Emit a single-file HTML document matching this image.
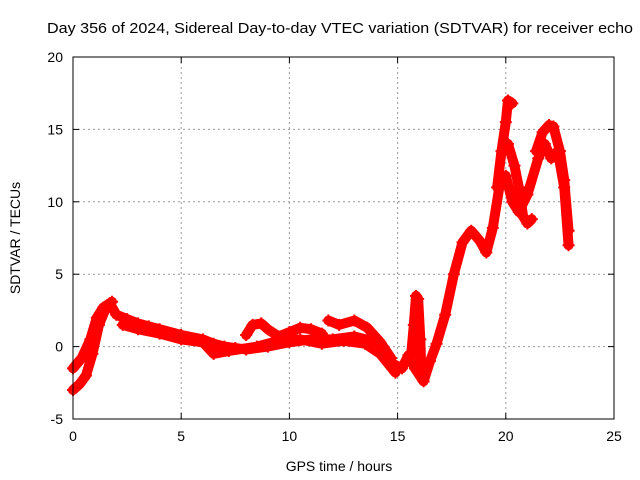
<!DOCTYPE html>
<html><head><meta charset="utf-8"><style>
body{margin:0;background:#fff;}
svg{display:block;font-family:"Liberation Sans",sans-serif;}
</style></head><body>
<svg id="chart" width="640" height="480">
<rect width="640" height="480" fill="#fff"/>
<text x="47" y="33" font-size="15" textLength="586" lengthAdjust="spacingAndGlyphs">Day 356 of 2024, Sidereal Day-to-day VTEC variation (SDTVAR) for receiver echo</text>
<g id="grid"></g>
<g id="marks"></g>
<rect x="73" y="57" width="541" height="362" fill="none" stroke="#000" stroke-width="1"/>
<g id="axes"></g>
<text x="339" y="471" font-size="14" text-anchor="middle">GPS time / hours</text>
<text x="20" y="238" font-size="14" text-anchor="middle" transform="rotate(-90 20 238)">SDTVAR / TECUs</text>
</svg>
<script>
const xTicks=[0,5,10,15,20,25];
const yTicks=[-5,0,5,10,15,20];
const seriesMain=[[0,-1.5],[0.4,-0.8],[0.8,0.5],[1.1,2],[1.4,2.7],[1.7,3],[2,2.2],[2.5,1.9],[3,1.6],[3.5,1.4],[4,1.2],[5,0.8],[6,0.5],[6.5,0.2],[7,0],[7.5,-0.1],[8,-0.2],[9,0],[10,0.3],[11,0.5],[12,0.5],[13,0.7],[13.8,0.4],[14.3,-0.3],[14.8,-1.2],[15.2,-1.5],[15.5,-0.6],[15.8,-1.5],[16.2,-2.4],[16.5,-1],[16.8,0.2],[17.2,2.2],[17.6,5],[18,7.2],[18.4,8],[18.8,7.3],[19.1,6.5],[19.4,8.2],[19.7,11],[20,11.8],[20.3,10],[20.6,9.3],[21,10.5],[21.5,13],[21.8,14],[22.1,13],[22.4,13.5],[22.7,11],[22.9,7]];
const seriesLowStart=[[0,-3],[0.3,-2.6],[0.6,-2],[0.9,-0.5],[1.2,1.5],[1.5,2.6],[1.8,3.1]];
const seriesMid=[[2.3,1.5],[3,1.2],[4,0.9],[5,0.5],[6,0.3],[6.5,-0.5],[7.2,-0.3],[8.5,0],[9.5,0.4],[10.5,0.5],[11.5,0.2],[12.5,0.4],[13.5,0.2],[14.2,-0.5],[14.9,-1.8]];
const seriesLoop=[[8,0.8],[8.3,1.5],[8.7,1.6],[9,1.2],[9.5,0.7],[10,1],[10.5,1.3],[11,1.2],[11.5,0.9]];
const seriesLate=[[11.8,1.8],[12.3,1.5],[13,1.8],[13.6,1.3],[14.2,0.3],[14.7,-0.8]];
const seriesSpike=[[15.6,-1],[15.75,1.5],[15.85,3.5],[15.95,3.3],[16.05,0.5],[16.1,-1.8]];
const seriesPeak=[[19.6,11],[19.8,13.5],[20,15.5],[20.1,17],[20.3,16.8]];
const seriesBranch=[[20.1,14],[20.4,12.5],[20.6,11],[20.8,9],[21,8.5],[21.2,8.8]];
const seriesLast=[[21.4,13.5],[21.7,14.8],[22,15.3],[22.2,15.2],[22.5,13.5],[22.7,11.5],[22.9,8]];
const allSeries=[seriesMain,seriesLowStart,seriesMid,seriesLoop,seriesLate,seriesSpike,seriesPeak,seriesBranch,seriesLast];
const X0=73,X1=614,Y0=419,Y1=57;
const sx=t=>X0+(t-0)/(25-0)*(X1-X0);
const sy=v=>Y0-(v+5)/(20+5)*(Y0-Y1);
const NS="http://www.w3.org/2000/svg";
const grid=document.getElementById('grid'),axes=document.getElementById('axes'),marks=document.getElementById('marks');
function mk(tag,attrs,parent){const e=document.createElementNS(NS,tag);for(const k in attrs)e.setAttribute(k,attrs[k]);parent.appendChild(e);return e;}
xTicks.forEach(t=>{
  const x=sx(t);
  if(t>0&&t<25){const g=mk('line',{x1:x,x2:x,y1:Y1,y2:Y0,stroke:'#999','stroke-dasharray':'2,3'},grid);
  
  }
  mk('line',{x1:x,x2:x,y1:Y0,y2:Y0-6,stroke:'#000'},axes);
  mk('line',{x1:x,x2:x,y1:Y1,y2:Y1+6,stroke:'#000'},axes);
  const l=mk('text',{x:x,y:Y0+22,'font-size':14,'text-anchor':'middle'},axes);l.textContent=t;
  
  
});
yTicks.forEach(v=>{
  const y=sy(v);
  if(v>-5&&v<20){const g=mk('line',{x1:X0,x2:X1,y1:y,y2:y,stroke:'#999','stroke-dasharray':'2,3'},grid);
  
  }
  mk('line',{x1:X0,x2:X0+6,y1:y,y2:y,stroke:'#000'},axes);
  mk('line',{x1:X1,x2:X1-6,y1:y,y2:y,stroke:'#000'},axes);
  const l=mk('text',{x:X0-10,y:y+5,'font-size':14,'text-anchor':'end'},axes);l.textContent=v;
  
  
});
allSeries.forEach(s=>{
  const p=mk('polyline',{points:s.map(d=>sx(d[0])+','+sy(d[1])).join(' '),fill:'none',stroke:'#f00','stroke-width':10,'stroke-linejoin':'round','stroke-linecap':'round'},marks);
  
  
  s.forEach(d=>{
    const x=sx(d[0]),y=sy(d[1]);
    const m=mk('path',{d:`M${x-6},${y}H${x+6}M${x},${y-6}V${y+6}`,stroke:'#f00','stroke-width':2},marks);
    
    
  });
});
</script>
</body></html>
